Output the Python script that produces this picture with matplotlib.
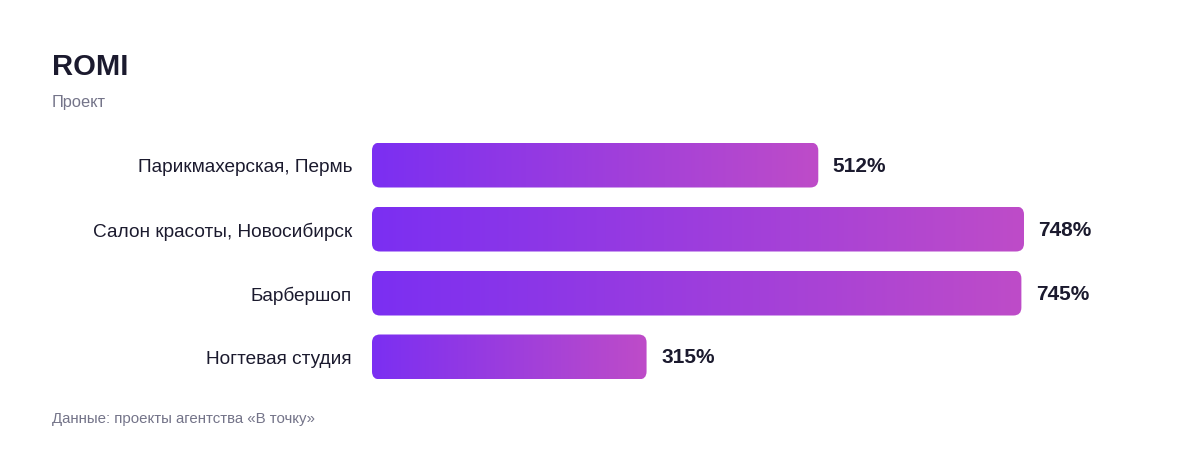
import matplotlib.pyplot as plt
import numpy as np
from matplotlib.colors import LinearSegmentedColormap
from matplotlib.patches import FancyBboxPatch

plt.rcParams['font.family'] = ['Liberation Sans', 'DejaVu Sans']

projects = ['Парикмахерская, Пермь', 'Салон красоты, Новосибирск', 'Барбершоп', 'Ногтевая студия']
romi = [512, 748, 745, 315]
value_labels = ['512%', '748%', '745%', '315%']

W, H = 1200, 456
dark = '#1b1a2e'
gray = '#747489'
cmap = LinearSegmentedColormap.from_list('bar', ['#7b2ff2', '#be4cc8'])

fig = plt.figure(figsize=(W / 100, H / 100), dpi=100)

# axes box in pixels: bars start at x=372, longest bar ends near x=1024
ax_left, ax_right = 372, 1150
ax_top, ax_bottom = 134, 390
ax = fig.add_axes([ax_left / W, 1 - ax_bottom / H, (ax_right - ax_left) / W, (ax_bottom - ax_top) / H])
xmax = max(romi) * (ax_right - ax_left) / (1024 - ax_left)

sx = (ax_right - ax_left) / xmax
sy = (ax_bottom - ax_top) / len(romi)
bar_h = 45 / sy
radius = 8

grad = np.linspace(0, 1, 256).reshape(1, -1)
for i, v in enumerate(romi):
    patch = FancyBboxPatch((0, i - bar_h / 2), v, bar_h,
                           boxstyle=f'round,pad=0,rounding_size={radius / sx}',
                           mutation_aspect=sx / sy, fc='none', ec='none')
    ax.add_patch(patch)
    im = ax.imshow(grad, cmap=cmap, aspect='auto', extent=(0, v, i + bar_h / 2, i - bar_h / 2),
                   interpolation='bilinear')
    im.set_clip_path(patch)
    ax.annotate(value_labels[i], (v, i), xytext=(10.5, 0), textcoords='offset points',
                ha='left', va='center', fontsize=15, fontweight='bold', color=dark)

ax.set_xlim(0, xmax)
ax.set_ylim(len(romi) - 0.5, -0.5)
ax.set_yticks(range(len(projects)))
ax.set_yticklabels(projects, fontsize=13.7, color=dark)
ax.tick_params(axis='y', length=0, pad=14.4)
ax.set_xticks([])
for s in ax.spines.values():
    s.set_visible(False)
ax.patch.set_alpha(0)

fig.text(52 / W, 1 - 75 / H, 'ROMI', fontsize=21, fontweight='bold', color=dark, va='baseline')
fig.text(52 / W, 1 - 107 / H, 'Проект', fontsize=11.8, color=gray, va='baseline')
fig.text(52 / W, 1 - 423 / H, 'Данные: проекты агентства «В точку»', fontsize=10.8, color=gray, va='baseline')

fig.savefig('out.png', dpi=100)
